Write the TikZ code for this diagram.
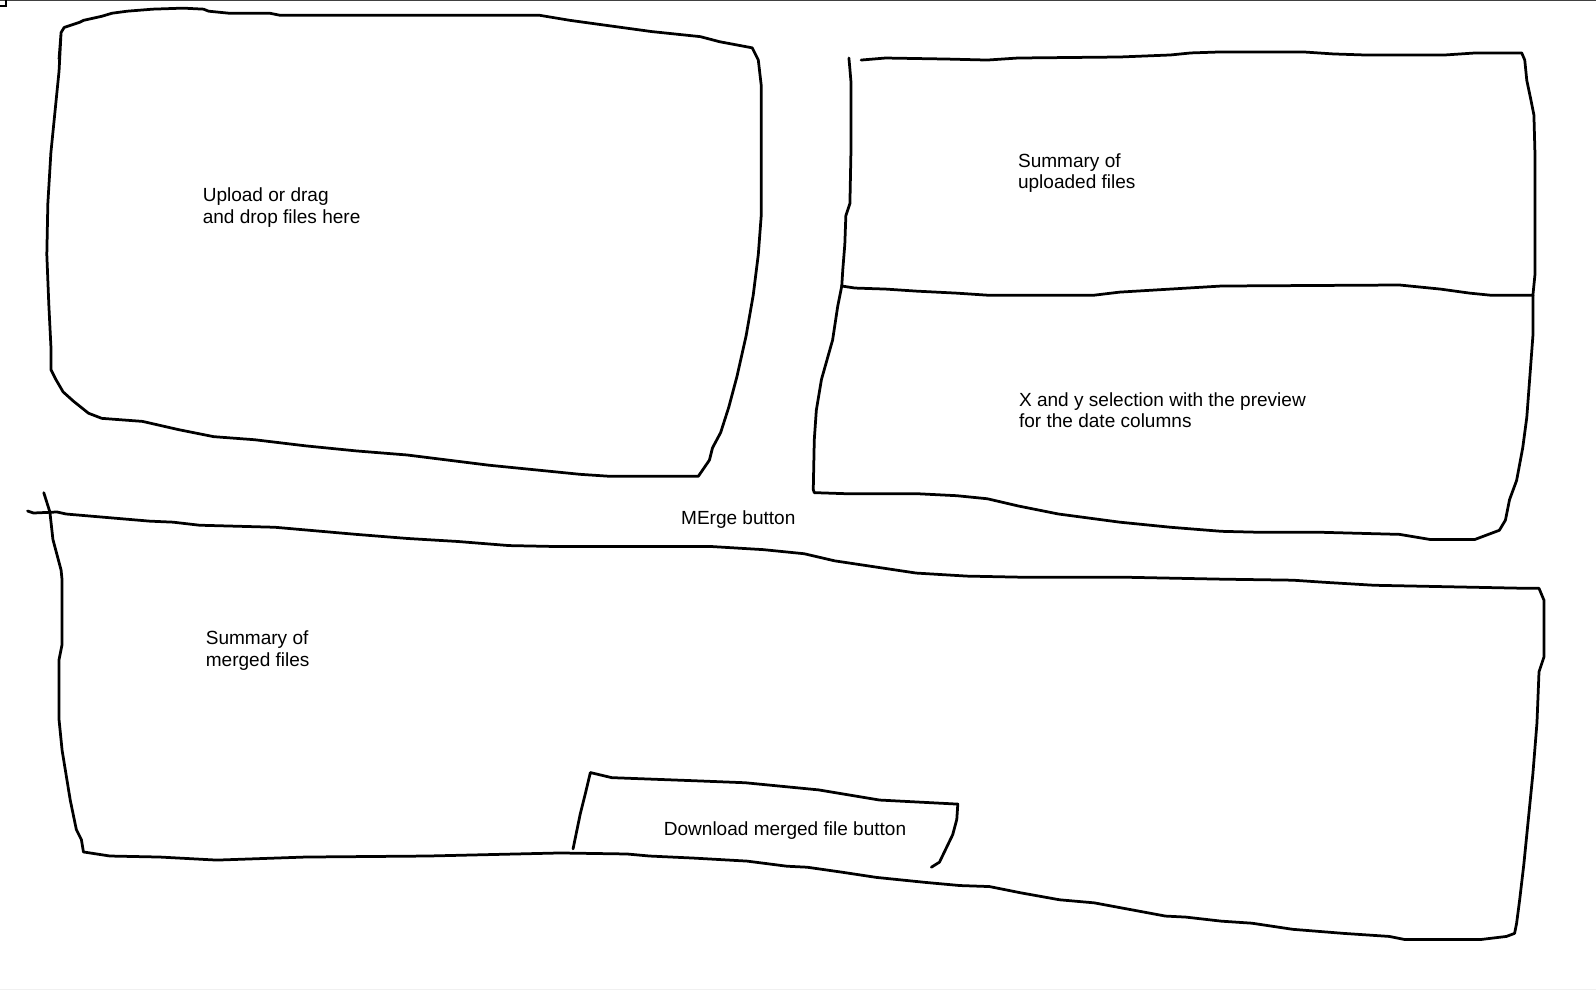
\documentclass[tikz,border=0pt]{standalone}
\usepackage{fontspec}
\setmainfont{Liberation Sans}
\usetikzlibrary{positioning}

\begin{document}
\begin{tikzpicture}[x=1pt, y=-1pt,
  pen/.style={line width=2.7pt, line join=round, line cap=round},
  lbl/.style={font=\fontsize{18.7}{21}\selectfont, align=left, anchor=west, inner sep=0pt}]
\useasboundingbox (0,0) rectangle (1568,974);

% Frame remains
\draw[line width=1.5pt, black!75] (0,0.7) -- (1568,0.7);
\draw[line width=2pt] (0,6) -- (6,6) -- (6,0);
\draw[line width=1pt, black!6] (0,972) -- (1568,972);

% Upload area
\draw[pen] (58,58) -- (60,32) -- (63,27) -- (78,22) -- (82,20) -- (100,16) -- (110,13)
  -- (125,11) -- (150,9) -- (180,8) -- (200,9) -- (205,11) -- (225,13) -- (265,13)
  -- (275,15) -- (530,15) -- (560,20) -- (589,24) -- (640,31) -- (688,36) -- (707,41)
  -- (739,47) -- (745,59) -- (748,85) -- (748,150) -- (748,210) -- (745,250)
  -- (740,290) -- (733,330) -- (724,370) -- (716,400) -- (708,425) -- (700,440)
  -- (697,452) -- (686,468) -- (600,468) -- (570,466) -- (520,461) -- (480,457)
  -- (440,452) -- (400,447) -- (350,443) -- (300,438) -- (250,432) -- (210,429)
  -- (175,422) -- (140,414) -- (100,411) -- (87,406) -- (72,394) -- (62,385)
  -- (55,373) -- (50,363) -- (50,340) -- (48,300) -- (46,250) -- (47,200)
  -- (50,150) -- (55,100) -- (58,70) -- (60,32);

% Summary of uploaded files
\draw[pen] (834,57) -- (835,68) -- (836,80) -- (836,150) -- (835,200) -- (831,212)
  -- (830,240) -- (828,265) -- (827,281);
\draw[pen] (846,59) -- (870,57) -- (930,58) -- (970,59) -- (1000,57) -- (1100,56)
  -- (1150,54) -- (1170,52) -- (1200,51) -- (1280,51) -- (1310,53) -- (1340,54)
  -- (1420,54) -- (1450,52) -- (1495,52) -- (1498,59) -- (1500,79) -- (1504,98)
  -- (1507,113) -- (1508,150) -- (1508,270) -- (1506,290);
\draw[pen] (827,281) -- (840,283) -- (870,284) -- (900,286) -- (940,288) -- (970,290)
  -- (1075,290) -- (1100,287) -- (1150,284) -- (1200,281) -- (1375,280) -- (1415,284)
  -- (1444,288) -- (1464,290) -- (1506,290);

% X and y selection
\draw[pen] (827,281) -- (823,301) -- (818,334) -- (807,373) -- (802,403) -- (800,432)
  -- (799,481) -- (800,484) -- (830,485) -- (900,485) -- (940,487) -- (970,490)
  -- (1000,497) -- (1040,505) -- (1070,509) -- (1100,513) -- (1150,518)
  -- (1200,522) -- (1240,523) -- (1300,523) -- (1375,525) -- (1405,530)
  -- (1449,530) -- (1473,521) -- (1479,511) -- (1483,491) -- (1490,472)
  -- (1496,440) -- (1500,410) -- (1503,370) -- (1506,330) -- (1506,290);

% Summary of merged files
\draw[pen] (43,484) -- (49,503) -- (52,530) -- (60,560) -- (61,570) -- (61,633)
  -- (58,648) -- (58,707) -- (61,737) -- (69,786) -- (75,815) -- (80,825)
  -- (82,837) -- (108,841) -- (157,842) -- (213,845) -- (300,842) -- (420,841)
  -- (550,838) -- (616,839) -- (638,841) -- (681,843) -- (734,846) -- (773,851)
  -- (793,852) -- (828,857) -- (861,862) -- (910,867) -- (943,870) -- (972,871)
  -- (1002,877) -- (1041,884) -- (1075,887) -- (1145,900) -- (1165,901)
  -- (1200,905) -- (1230,907) -- (1270,913) -- (1320,917) -- (1365,920)
  -- (1380,923) -- (1455,923) -- (1480,920) -- (1488,917) -- (1490,907)
  -- (1493,884) -- (1497,850) -- (1502,800) -- (1506,760) -- (1510,710)
  -- (1512,660) -- (1517,645) -- (1517,590) -- (1512,578) -- (1500,578)
  -- (1400,576) -- (1350,575) -- (1300,572) -- (1270,570) -- (1200,569)
  -- (1100,567) -- (1000,567) -- (950,566) -- (900,563) -- (860,557)
  -- (820,551) -- (790,544) -- (750,540) -- (700,537) -- (550,537) -- (500,536)
  -- (450,532) -- (400,529) -- (350,525) -- (270,518) -- (196,516) -- (170,513)
  -- (147,512) -- (65,505) -- (56,503) -- (33,504) -- (27,502);

% Download button
\draw[pen] (563,834) -- (570,800) -- (575,780) -- (580,759) -- (601,764) -- (681,767)
  -- (732,769) -- (804,776) -- (864,786) -- (941,790) -- (940,805) -- (936,820)
  -- (923,847) -- (915,852);

% Labels
\node[lbl] (upload) at (199,204) {Upload or drag\\and drop files here};
\node[lbl] (sumup) at (1000,170) {Summary of\\uploaded files};
\node[lbl] (xysel) at (1001,403) {X and y selection with the preview\\for the date columns};
\node[lbl] (merge) at (669,510) {MErge button};
\node[lbl] (summerge) at (202,639) {Summary of\\merged files};
\node[lbl] (download) at (652,816) {Download merged file button};
\end{tikzpicture}
\end{document}
